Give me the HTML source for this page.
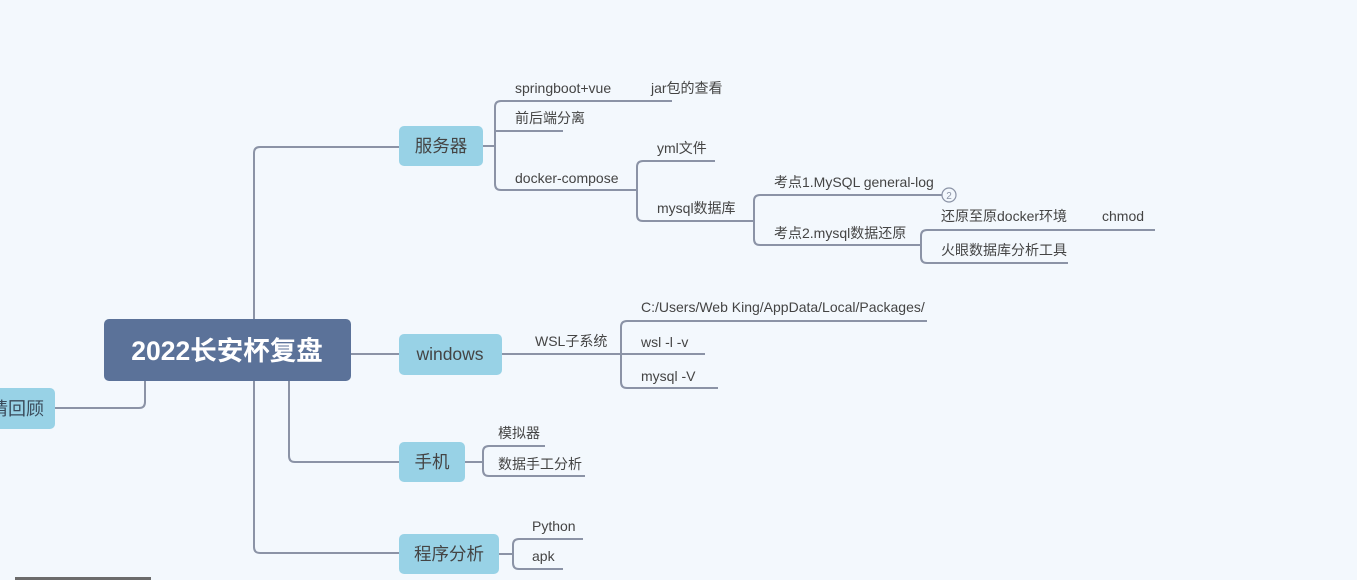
<!DOCTYPE html>
<html><head><meta charset="utf-8"><style>
html,body{margin:0;padding:0;background:#f3f8fd;width:1357px;height:580px;overflow:hidden}
svg text{font-family:"Liberation Sans","Noto Sans CJK SC",sans-serif;fill:#444;font-size:14px}
</style></head><body>
<svg width="1357" height="580" xmlns="http://www.w3.org/2000/svg">
<g fill="none" stroke="#8b93a6" stroke-width="2">
<path d="M254 319 V153 Q254 147 260 147 H399"/>
<path d="M254 381 V547 Q254 553 260 553 H399"/>
<path d="M351 354 H399"/>
<path d="M289 381 V456 Q289 462 295 462 H399"/>
<path d="M145 381 V402 Q145 408 139 408 H55"/>
<path d="M483 146 H495"/>
<path d="M672 101 H501 Q495 101 495 107 V184 Q495 190 501 190 H637"/>
<path d="M495 131 H563"/>
<path d="M715 161 H643 Q637 161 637 167 V215 Q637 221 643 221 H754"/>
<path d="M943 195 H760 Q754 195 754 201 V239 Q754 245 760 245 H921"/>
<path d="M1155 230 H927 Q921 230 921 236 V257 Q921 263 927 263 H1068"/>
<path d="M502 354 H627"/>
<path d="M927 321 H627 Q621 321 621 327 V382 Q621 388 627 388 H718"/>
<path d="M621 354 H705"/>
<path d="M465 462 H483"/>
<path d="M545 446 H489 Q483 446 483 452 V470 Q483 476 489 476 H585"/>
<path d="M499 554 H513"/>
<path d="M583 539 H519 Q513 539 513 545 V563 Q513 569 519 569 H563"/>
</g>
<circle cx="949" cy="195" r="7" fill="#f3f8fd" stroke="#8b93a6" stroke-width="1.2"/>
<text x="949" y="199" text-anchor="middle" style="font-size:10px;fill:#8b93a6">2</text>

<rect x="104" y="319" width="247" height="62" rx="5" fill="#5b7299"/>
<text x="227" y="360" text-anchor="middle" style="font-size:26.5px;font-weight:bold;fill:#fff">2022长安杯复盘</text>
<rect x="-10" y="388" width="65" height="41" rx="5" fill="#98d2e6"/>
<text x="-10" y="415" style="font-size:18px;fill:#3a4a5a">请回顾</text>

<rect x="399" y="126" width="84" height="40" rx="5" fill="#98d2e6"/>
<text x="441" y="152" text-anchor="middle" style="font-size:17.5px">服务器</text>
<rect x="399" y="334" width="103" height="41" rx="5" fill="#98d2e6"/>
<text x="450" y="360" text-anchor="middle" style="font-size:17.5px">windows</text>
<rect x="399" y="442" width="66" height="40" rx="5" fill="#98d2e6"/>
<text x="432" y="468" text-anchor="middle" style="font-size:17.5px">手机</text>
<rect x="399" y="534" width="100" height="40" rx="5" fill="#98d2e6"/>
<text x="449" y="560" text-anchor="middle" style="font-size:17.5px">程序分析</text>

<text x="515" y="93">springboot+vue</text>
<text x="651" y="93">jar包的查看</text>
<text x="515" y="123">前后端分离</text>
<text x="515" y="183">docker-compose</text>
<text x="657" y="153">yml文件</text>
<text x="657" y="213">mysql数据库</text>
<text x="774" y="187">考点1.MySQL general-log</text>
<text x="774" y="238">考点2.mysql数据还原</text>
<text x="941" y="221">还原至原docker环境</text>
<text x="1102" y="221">chmod</text>
<text x="941" y="255">火眼数据库分析工具</text>
<text x="535" y="346">WSL子系统</text>
<text x="641" y="312">C:/Users/Web King/AppData/Local/Packages/</text>
<text x="641" y="347">wsl -l -v</text>
<text x="641" y="381">mysql -V</text>
<text x="498" y="438">模拟器</text>
<text x="498" y="469">数据手工分析</text>
<text x="532" y="531">Python</text>
<text x="532" y="561">apk</text>
<rect x="15" y="577" width="136" height="3" fill="#6b6b6b"/>
</svg>
</body></html>
